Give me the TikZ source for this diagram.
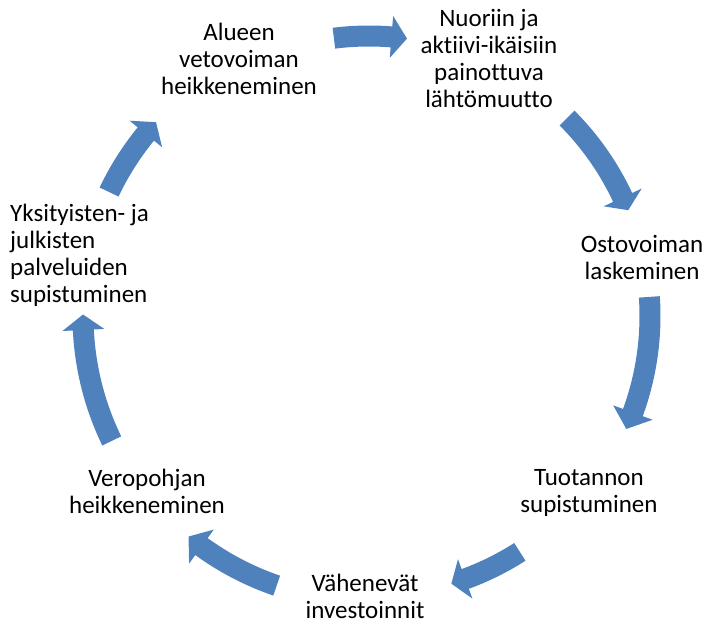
\documentclass[tikz,border=0pt]{standalone}
\usepackage{fontspec}
\setmainfont{Carlito}[Ligatures={NoCommon,NoContextual}]
\definecolor{arrowblue}{HTML}{4F81BD}
\newcommand\cyclearrow[4]{%
  \pgfmathsetmacro\cyRo{#4+10.5}%
  \pgfmathsetmacro\cyRi{#4-10.5}%
  \pgfmathsetmacro\cyHo{#4+21}%
  \pgfmathsetmacro\cyHi{#4-21}%
  \fill[arrowblue, shift={(369pt,309pt)}]
    (#1:\cyRo pt) arc[start angle=#1, end angle=#2, radius=\cyRo pt]
    -- (#2:\cyHo pt) -- (#3:#4pt) -- (#2:\cyHi pt) -- (#2:\cyRi pt)
    arc[start angle=#2, end angle=#1, radius=\cyRi pt] -- cycle;
}
\tikzset{
  label/.style={inner sep=0pt, align=center, font=\fontsize{25}{27}\selectfont, text=black},
}
\begin{document}
\begin{tikzpicture}[x=1pt,y=1pt]
\useasboundingbox (0,0) rectangle (709,625);
% arrows (tail angle, head base angle, tip angle, radius)
\cyclearrow{97.2}{85.4}{82.2}{280}
\cyclearrow{45}{25.05}{22.2}{280}
\cyclearrow{3.9}{-20.1}{-23.7}{281}
\cyclearrow{-57.4}{-69.9}{-72.9}{280}
\cyclearrow{-108.9}{-126.0}{-129.3}{285}
\cyclearrow{-154.1}{-177.2}{-180.3}{286}
\cyclearrow{154.5}{140.8}{137.7}{288}
% texts
\node[label] (alue) at (239,566) {Alueen\\vetovoiman\\heikkeneminen};
\node[label] (nuor) at (489,566.5) {Nuoriin ja\\aktiivi-ikäisiin\\painottuva\\lähtömuutto};
\node[label] (osto) at (642,368) {Ostovoiman\\laskeminen};
\node[label] (tuot) at (589,132) {Tuotannon\\supistuminen};
\node[label] (vahe) at (365,29) {Vähenevät\\investoinnit};
\node[label] (vero) at (147,134) {Veropohjan\\heikkeneminen};
\node[label, align=left, anchor=west] (yksi) at (10,370) {Yksityisten- ja\\julkisten\\palveluiden\\supistuminen};
\end{tikzpicture}
\end{document}
